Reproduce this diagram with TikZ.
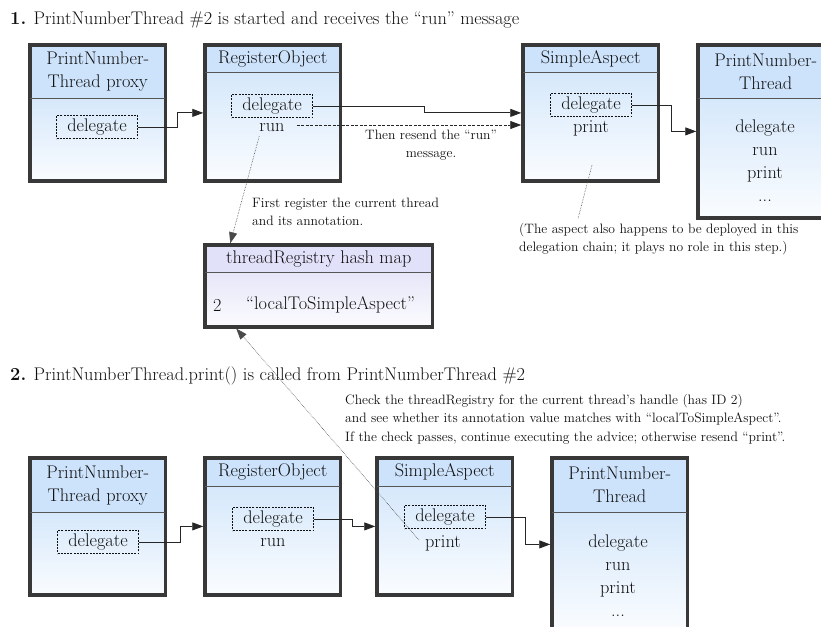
\documentclass[tikz,border=0pt]{standalone}
\usepackage{fontspec}
\usepackage{xcolor}
\usetikzlibrary{positioning,arrows.meta,fit,calc}
\definecolor{frameink}{HTML}{383838}
\definecolor{headblue}{HTML}{CDE3FB}
\definecolor{bodyblue}{HTML}{D6E8FB}
\definecolor{headlav}{HTML}{E1E1FA}
\definecolor{bodylav}{HTML}{E6E6F9}
\definecolor{ink}{HTML}{101010}
\definecolor{wire}{HTML}{262626}
\definecolor{hintc}{HTML}{4A4A4A}
\newcommand{\boxfont}{\fontsize{18.3}{23}\selectfont}
\newcommand{\notefont}{\fontsize{13.6}{18.5}\selectfont}
% one object: header on top of a shaded body, framed
\newcommand{\objbox}[5]{%
  \node[head, minimum height=#3, anchor=north west] (#1h) at (#2) {#5};
  \node[body, minimum height=#4, below=0pt of #1h] (#1b) {};
  \node[frame, fit=(#1h)(#1b)] (#1) {};
  \draw[sep] (#1h.south west) -- (#1h.south east);
}
\tikzset{
  font=\boxfont,
  >={Triangle[length=11pt,width=8pt]},
  head/.style    = {fill=headblue, inner sep=0pt, minimum width=135pt,
                    align=center, text=ink},
  body/.style    = {top color=bodyblue, bottom color=bodyblue!12,
                    inner sep=0pt, minimum width=135pt},
  reghead/.style = {head, fill=headlav, minimum width=227pt},
  regbody/.style = {body, top color=bodylav, bottom color=bodylav!15,
                    minimum width=227pt},
  frame/.style   = {draw=frameink, line width=3.5pt, inner sep=0pt},
  sep/.style     = {draw=frameink!85, line width=0.9pt},
  member/.style  = {inner sep=0pt, text=ink, align=center},
  deleg/.style   = {draw=ink, dash pattern=on 2pt off 1.2pt, line width=0.6pt,
                    minimum width=81pt, minimum height=23pt, inner sep=0pt,
                    text=ink},
  flow/.style    = {->, draw=wire, line width=0.9pt},
  resend/.style  = {->, draw=wire, line width=0.9pt, dash pattern=on 3pt off 1.5pt},
  hint/.style    = {draw=hintc, line width=0.6pt, densely dotted},
  note/.style    = {font=\notefont, align=left, inner sep=0pt, text=ink},
  title/.style   = {anchor=west, inner sep=0pt, text=ink},
}

\begin{document}
\begin{tikzpicture}[x=1pt, y=-1pt]
\useasboundingbox (0,0) rectangle (821,626);
\clip (0,0) rectangle (821,626);

% ---------------- step 1 ----------------------------------------------
\node[title] (t1) at (10,20)
  {\textbf{1.} PrintNumberThread \#2 is started and receives the “run” message};

\objbox{px}{30,45}{53pt}{82pt}{PrintNumber-\\Thread proxy}
\objbox{ro}{205,45}{27pt}{108pt}{RegisterObject}
\objbox{sa}{523,45}{27pt}{108pt}{SimpleAspect}
\objbox{pnt}{698,45}{53pt}{119pt}{PrintNumber-\\Thread}

\node[deleg] (pxd) at (97,127) {delegate};
\node[deleg] (rod) at (272,106) {delegate};
\node[member] (rorun) at (272,128) {run};
\node[deleg] (sad) at (591,105) {delegate};
\node[member] (saprt) at (591,128) {print};
\node[member] (pntops) at (765,161) {delegate\\run\\print\\...};

\draw[flow] (pxd.east) -- ++(40,0) |- (ro.west);
\draw[flow] (rod.east) -- ++(112,0) |- (sa.west);
\draw[flow] (sad.east) -- ++(40,0) |- (pnt.west);
\draw[resend] ([xshift=12pt,yshift=3pt]rorun.east) coordinate (rs) -- (rs -| sa.west);
\node[note, align=center] (resendtag) at (431,145) {Then resend the “run”\\message.};

% the registry
\node[reghead, minimum height=27pt, anchor=north west] (regh) at (205,245)
  {threadRegistry hash map};
\node[regbody, minimum height=54pt, below=0pt of regh] (regb) {};
\node[frame, fit=(regh)(regb)] (reg) {};
\draw[sep] (regh.south west) -- (regh.south east);
\node[member, anchor=west] (regkey) at (213,305) {2};
\node[member, anchor=west] (regval) at (246,305) {“localToSimpleAspect”};

\node[note, anchor=west] (regtag) at (252,212)
  {First register the current thread\\and its annotation.};
\draw[hint, ->] ([yshift=-4pt]rorun.south west) -- ([xshift=27pt]reg.north west);

% the aspect sits in the chain but does nothing here
\node[note, anchor=west] (aspnote) at (519,239)
  {(The aspect also happens to be deployed in this\\delegation chain; it plays no role in this step.)};
\coordinate (aspdot) at (592,165);
\draw[hint] (aspdot) -- ([xshift=59pt,yshift=4pt]aspnote.north west);

% ---------------- step 2 ----------------------------------------------
\node[title] (t2) at (10,376)
  {\textbf{2.} PrintNumberThread.print() is called from PrintNumberThread \#2};
\node[note, anchor=west] (checktag) at (345,419)
  {Check the threadRegistry for the current thread's handle (has ID 2)\\
   and see whether its annotation value matches with “localToSimpleAspect”.\\
   If the check passes, continue executing the advice; otherwise resend “print”.};

\objbox{pxb}{30,458}{54pt}{82pt}{PrintNumber-\\Thread proxy}
\objbox{rob}{205,458}{28pt}{108pt}{RegisterObject}
\objbox{sab}{377,458}{28pt}{108pt}{SimpleAspect}
\objbox{pntb}{552,458}{54pt}{118pt}{PrintNumber-\\Thread}

\node[deleg] (pxbd) at (98,542) {delegate};
\node[deleg] (robd) at (273,519) {delegate};
\node[member] (robrun) at (273,543) {run};
\node[deleg] (sabd) at (445,517) {delegate};
\node[member] (sabprt) at (443,543) {print};
\node[member] (pntbops) at (618,576) {delegate\\run\\print\\...};

\draw[flow] (pxbd.east) -- ++(42,0) |- (rob.west);
\draw[flow] (robd.east) -- ++(39,0) |- (sab.west);
\draw[flow] (sabd.east) -- ++(40,0) |- (pntb.west);

\draw[hint, ->] ([xshift=-6pt,yshift=3pt]sabprt.west) -- ([xshift=33pt]reg.south west);

\end{tikzpicture}
\end{document}
